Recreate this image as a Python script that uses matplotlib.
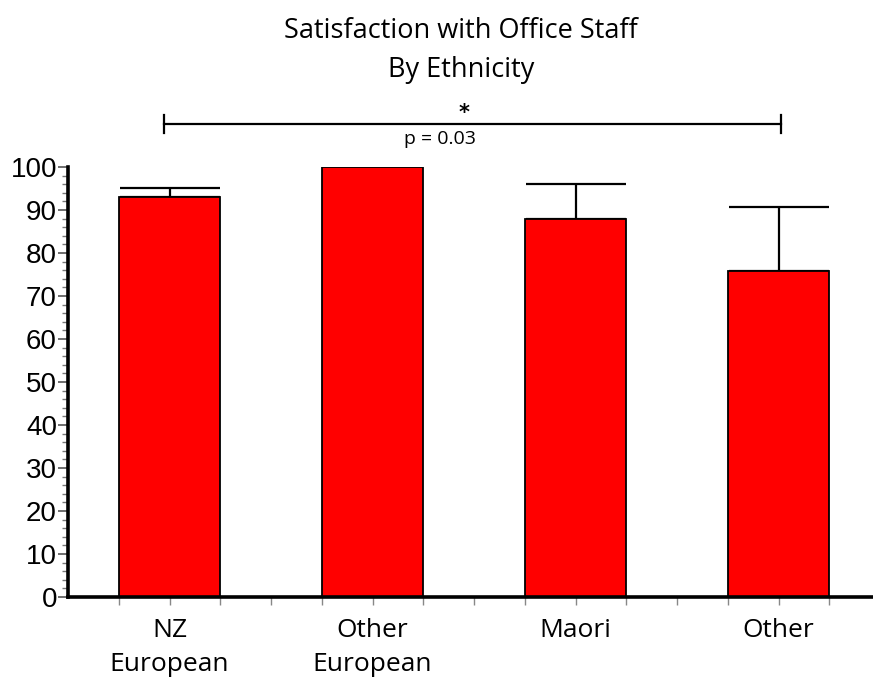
import matplotlib
matplotlib.use("Agg")
import matplotlib.pyplot as plt
import numpy as np

groups = ["NZ\nEuropean", "Other\nEuropean", "Maori", "Other"]
means = [93.0, 100.0, 87.9, 75.8]
upper_err = [2.1, 0.0, 8.1, 14.9]
p_text = "p = 0.03"

fig = plt.figure(figsize=(8.73, 6.79), dpi=100)
ax = fig.add_axes([68 / 873, 1 - 597 / 679, 812 / 873, 430 / 679])

x = np.arange(len(groups))
ax.errorbar(x, means, yerr=[np.zeros(len(x)), upper_err], fmt="none",
            ecolor="black", elinewidth=1.6, capsize=36, capthick=1.6, zorder=1)
ax.bar(x, means, width=0.5, color="#ff0000", edgecolor="black", linewidth=1.3, zorder=2)

ax.set_xlim(-0.5, 3.5)
ax.set_ylim(0, 100)

for s in ["top", "right"]:
    ax.spines[s].set_visible(False)
ax.spines["left"].set_linewidth(2.6)
ax.spines["bottom"].set_linewidth(2.6)
ax.spines["left"].set_bounds(0, 100)

ax.set_yticks(np.arange(0, 101, 10))
ax.set_yticks(np.arange(0, 101, 2), minor=True)
ax.tick_params(axis="y", which="major", length=7, width=1.2, color="#555555", pad=1)
ax.tick_params(axis="y", which="minor", length=4, width=1.0, color="#777777")
for lab in ax.get_yticklabels():
    lab.set_fontfamily("Liberation Sans")
    lab.set_fontsize(20)

ax.set_xticks(x)
ax.set_xticks(np.arange(-0.25, 3.5, 0.25), minor=True)
ax.set_xticklabels(groups, fontfamily="Open Sans", fontsize=19, linespacing=1.5)
ax.tick_params(axis="x", which="both", length=6, width=1.0, color="#888888", pad=9)

# significance bracket
bx0, bx1, by = -0.025, 3.01, 110
ax.plot([bx0, bx1], [by, by], color="black", lw=1.6, clip_on=False)
ax.plot([bx0, bx0], [by - 2.2, by + 2.2], color="black", lw=1.6, clip_on=False)
ax.plot([bx1, bx1], [by - 2.2, by + 2.2], color="black", lw=1.6, clip_on=False)
ax.text(1.45, 112.6, "*", ha="center", va="center", fontsize=15,
        fontfamily="DejaVu Sans", fontweight="bold", clip_on=False)
ax.text(1.33, 106.4, p_text, ha="center", va="center", fontsize=14,
        fontfamily="Open Sans", clip_on=False)

fig.text(461 / 873, 1 - 31 / 679, "Satisfaction with Office Staff", ha="center",
         va="center", fontsize=19.5, fontfamily="Open Sans")
fig.text(461 / 873, 1 - 70 / 679, "By Ethnicity", ha="center",
         va="center", fontsize=19.5, fontfamily="Open Sans")

fig.savefig("out.png", dpi=100)
